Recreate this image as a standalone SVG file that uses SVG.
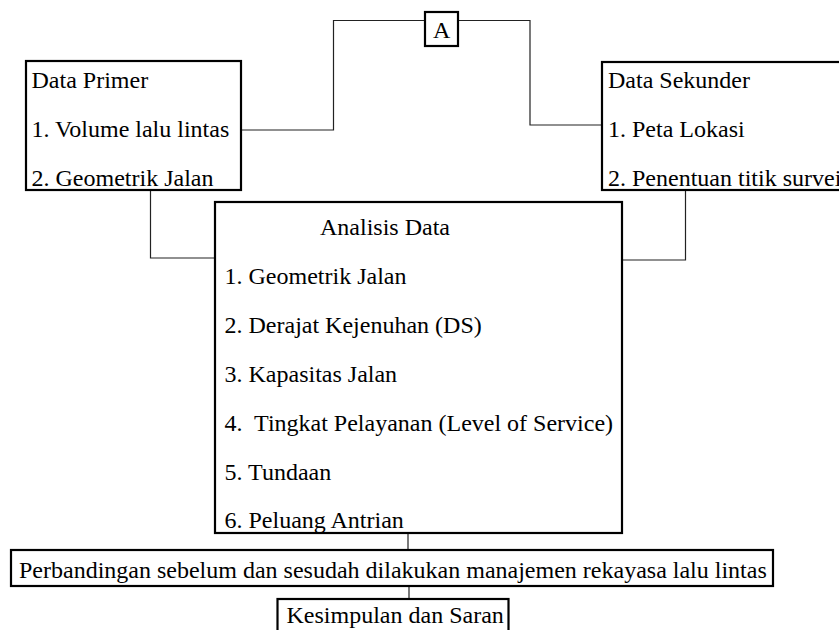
<svg xmlns="http://www.w3.org/2000/svg" width="839" height="630" viewBox="0 0 839 630">
<style>
.box{fill:#fff;stroke:#000;stroke-width:2.2}
.t{font-family:'Times New Roman','Liberation Serif','DejaVu Serif',serif;font-size:24px;fill:#000;white-space:pre}
.c{fill:none;stroke:#222;stroke-width:1.2}
</style>
<rect width="839" height="630" fill="#fff"/>
<g id="connectors">
<polyline class="c" points="242,130 333.5,130 333.5,20.5 425,20.5"/>
<polyline class="c" points="458,20.5 530,20.5 530,125 601,125"/>
<polyline class="c" points="150.5,191 150.5,258 214,258"/>
<polyline class="c" points="685.5,191 685.5,260 623,260"/>
<line class="c" x1="408" y1="534" x2="408" y2="549"/>
<line class="c" x1="409" y1="587" x2="409" y2="598"/>
</g>
<g id="data-primer">
<rect class="box" x="26" y="61" width="215" height="129"/>
<text class="t" x="31.5" y="88" font-family="Liberation Serif, serif">Data Primer</text>
<text class="t" x="31.5" y="137" font-family="Liberation Serif, serif">1. Volume lalu lintas</text>
<text class="t" x="31.5" y="186" font-family="Liberation Serif, serif">2. Geometrik Jalan</text>
</g>
<g id="node-a">
<rect class="box" x="425" y="12" width="33" height="34"/>
<text class="t" x="441.7" y="38.3" text-anchor="middle" font-family="Liberation Serif, serif">A</text>
</g>
<g id="data-sekunder">
<rect class="box" x="602" y="62" width="260" height="128"/>
<text class="t" x="608" y="87.5" font-family="Liberation Serif, serif">Data Sekunder</text>
<text class="t" x="608" y="137" font-family="Liberation Serif, serif">1. Peta Lokasi</text>
<text class="t" x="608" y="186" font-family="Liberation Serif, serif">2. Penentuan titik survei</text>
</g>
<g id="analisis-data">
<rect class="box" x="215" y="202" width="407" height="331"/>
<text class="t" x="320" y="234.5" font-family="Liberation Serif, serif">Analisis Data</text>
<text class="t" x="224.5" y="283.5" font-family="Liberation Serif, serif">1. Geometrik Jalan</text>
<text class="t" x="224.5" y="332.5" font-family="Liberation Serif, serif">2. Derajat Kejenuhan (DS)</text>
<text class="t" x="224.5" y="381.5" font-family="Liberation Serif, serif">3. Kapasitas Jalan</text>
<text class="t" x="224.5" y="430.5" font-family="Liberation Serif, serif">4.  Tingkat Pelayanan (Level of Service)</text>
<text class="t" x="224.5" y="479.5" font-family="Liberation Serif, serif">5. Tundaan</text>
<text class="t" x="224.5" y="528" font-family="Liberation Serif, serif">6. Peluang Antrian</text>
</g>
<g id="perbandingan">
<rect class="box" x="11" y="550" width="762" height="36"/>
<text class="t" x="19" y="578" font-family="Liberation Serif, serif">Perbandingan sebelum dan sesudah dilakukan manajemen rekayasa lalu lintas</text>
</g>
<g id="kesimpulan">
<rect class="box" x="277.5" y="599" width="231" height="40"/>
<text class="t" x="286.5" y="623" font-family="Liberation Serif, serif">Kesimpulan dan Saran</text>
</g>
</svg>
